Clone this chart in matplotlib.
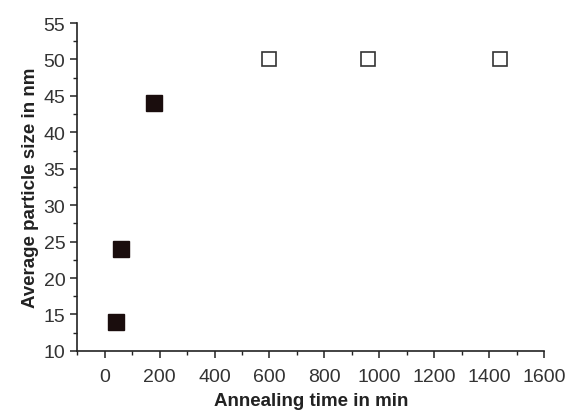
import matplotlib
matplotlib.use("Agg")
import matplotlib.pyplot as plt
from matplotlib.ticker import MultipleLocator

plt.rcParams['font.family'] = ['Liberation Sans', 'DejaVu Sans']

# filled squares: short annealing, open squares: long annealing
t_filled = [40, 60, 180]
size_filled = [14, 24, 44]
t_open = [600, 960, 1440]
size_open = [50, 50, 50]

fig = plt.figure(figsize=(5.68, 4.14), dpi=100)
ax = fig.add_axes([0.136, 0.15, 0.822, 0.792])

ax.plot(t_filled, size_filled, 's', ms=11, color='#1a0d0d', mec='#1a0d0d')
ax.plot(t_open, size_open, 's', ms=10, mfc='white', mec='#333333', mew=1.2)

ax.set_xlim(-100, 1600)
ax.set_ylim(10, 55)
ax.xaxis.set_major_locator(MultipleLocator(200))
ax.xaxis.set_minor_locator(MultipleLocator(100))
ax.yaxis.set_major_locator(MultipleLocator(5))
ax.yaxis.set_minor_locator(MultipleLocator(2.5))

for s in ['top', 'right']:
    ax.spines[s].set_visible(False)
for s in ['left', 'bottom']:
    ax.spines[s].set_linewidth(1.2)
    ax.spines[s].set_color('#222222')

ax.tick_params(which='major', length=5, width=1.1, labelsize=14, colors='#222222', labelcolor='#333333')
ax.tick_params(axis='x', which='major', pad=7)
ax.tick_params(which='minor', length=3, width=1.0, colors='#222222')

ax.set_xlabel('Annealing time in min', fontsize=13.5, fontweight='bold', color='#222222', labelpad=5)
ax.set_ylabel('Average particle size in nm', fontsize=13.5, fontweight='bold', color='#222222', labelpad=3)

fig.savefig('out.png', dpi=100)
